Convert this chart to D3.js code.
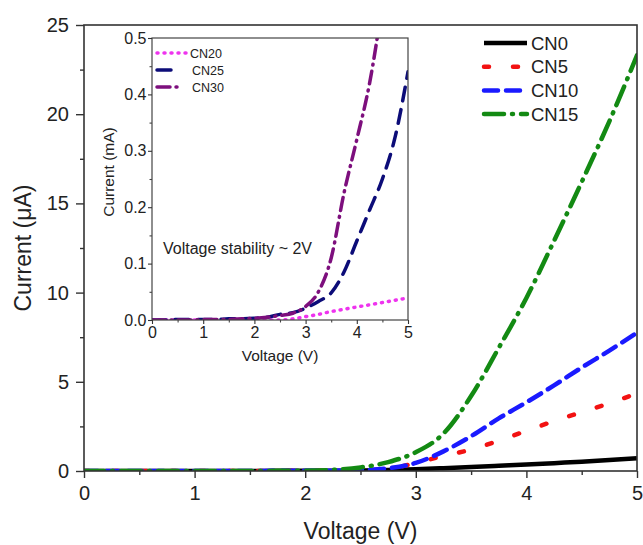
<!DOCTYPE html>
<html>
<head>
<meta charset="utf-8">
<script src="https://cdn.jsdelivr.net/npm/d3@7"></script>
<style>
  html, body { margin: 0; padding: 0; background: #fff; }
  svg { display: block; font-family: "Liberation Sans", Arial, sans-serif; }
</style>
</head>
<body>
<svg id="chart" width="643" height="545"></svg>
<script>
// Bias voltage (V), shared by every I–V sweep
const voltage = [0, 0.25, 0.5, 0.75, 1, 1.25, 1.5, 1.75, 2, 2.25, 2.5, 2.75, 3, 3.25, 3.5, 3.75, 4, 4.25, 4.5, 4.75, 5];

// Main panel currents (µA)
const cn0  = [0, 0, 0, 0, 0, 0, 0, 0.01, 0.01, 0.01, 0.02, 0.05, 0.1, 0.16, 0.22, 0.29, 0.36, 0.44, 0.52, 0.61, 0.72];
const cn5  = [0, 0, 0, 0, 0, 0, 0, 0.01, 0.01, 0.02, 0.03, 0.12, 0.45, 0.85, 1.2, 1.7, 2.25, 2.8, 3.3, 3.8, 4.35];
const cn10 = [0, 0, 0, 0, 0, 0, 0, 0.01, 0.01, 0.02, 0.05, 0.15, 0.45, 1.1, 1.95, 2.95, 3.85, 4.8, 5.8, 6.75, 7.75];
const cn15 = [0, 0, 0, 0, 0, 0, 0, 0.01, 0.02, 0.06, 0.2, 0.5, 1.05, 2.1, 4.2, 6.9, 9.7, 12.9, 16.2, 19.6, 23.3];

// Inset currents (mA)
const cn20 = [0, 0, 0, 0, 0, 0, 0, 0, 0, 0, 0, 0.002, 0.006, 0.01, 0.015, 0.019, 0.023, 0.027, 0.031, 0.035, 0.039];
const cn25 = [0, 0, 0.001, 0.001, 0.001, 0.001, 0.002, 0.002, 0.003, 0.005, 0.01, 0.013, 0.021, 0.033, 0.048, 0.085, 0.14, 0.195, 0.25, 0.325, 0.44];
const cn30 = [0, 0, 0, 0, 0.001, 0.001, 0.001, 0.002, 0.003, 0.005, 0.008, 0.012, 0.024, 0.05, 0.11, 0.225, 0.32, 0.42, 0.56, null, null];

// Tick values
const mainXTicks = [0, 1, 2, 3, 4, 5];
const mainYTicks = [0, 5, 10, 15, 20, 25];
const insetXTicks = [0, 1, 2, 3, 4, 5];
const insetYTicks = [0, 0.1, 0.2, 0.3, 0.4, 0.5];

const mainSeries = [
  { name: "CN0",  values: cn0,  color: "#000000", dash: null,          width: 4.5 },
  { name: "CN5",  values: cn5,  color: "#f21212", dash: "5 24",        width: 4.5 },
  { name: "CN10", values: cn10, color: "#1a1aff", dash: "14 8",        width: 4.5 },
  { name: "CN15", values: cn15, color: "#138a13", dash: "20 8 1 8",    width: 4.5 }
];
const insetSeries = [
  { name: "CN20", values: cn20, color: "#ee33ee", dash: "1 6",         width: 3.5 },
  { name: "CN25", values: cn25, color: "#0c0c78", dash: "14 9",        width: 3.5 },
  { name: "CN30", values: cn30, color: "#7d0f7d", dash: "13 6 1 6",    width: 3.5 }
];

const svg = d3.select("#chart");
const ink = "#222";

// ---------- main panel ----------
const M = { left: 84, right: 637, top: 25, bottom: 471 };
const x = d3.scaleLinear().domain([0, 5]).range([M.left, M.right]);
const y = d3.scaleLinear().domain([0, 25]).range([M.bottom, M.top]);

svg.append("defs").append("clipPath").attr("id", "mainClip")
  .append("rect").attr("x", M.left).attr("y", M.top)
  .attr("width", M.right - M.left).attr("height", M.bottom - M.top);

const mainLine = d3.line()
  .defined(d => d[1] != null)
  .x(d => x(d[0])).y(d => y(d[1]))
  .curve(d3.curveMonotoneX);

const gLines = svg.append("g").attr("clip-path", "url(#mainClip)");
mainSeries.forEach(s => {
  gLines.append("path")
    .datum(voltage.map((v, i) => [v, s.values[i]]))
    .attr("d", mainLine)
    .attr("fill", "none")
    .attr("stroke", s.color)
    .attr("stroke-width", s.width)
    .attr("stroke-linecap", s.dash ? "round" : "butt")
    .attr("stroke-dasharray", s.dash);
});

// frame
svg.append("rect")
  .attr("x", M.left).attr("y", M.top)
  .attr("width", M.right - M.left).attr("height", M.bottom - M.top)
  .attr("fill", "none").attr("stroke", "#333").attr("stroke-width", 1.6);

// axes
function styleAxis(g, size) {
  g.select(".domain").remove();
  g.selectAll(".tick line").attr("stroke", "#333").attr("stroke-width", 1.4);
  g.selectAll(".tick text").attr("fill", ink).style("font-size", size + "px");
}
const gx = svg.append("g").attr("transform", `translate(0,${M.bottom})`)
  .call(d3.axisBottom(x).tickValues(mainXTicks).tickFormat(d3.format("d")).tickSize(7).tickPadding(8));
styleAxis(gx, 20);
svg.append("g").attr("transform", `translate(0,${M.bottom})`)
  .call(d3.axisBottom(x).tickValues(d3.range(0.5, 5, 1)).tickFormat("").tickSize(4))
  .call(g => { g.select(".domain").remove(); g.selectAll("line").attr("stroke", "#333").attr("stroke-width", 1.4); });

const gy = svg.append("g").attr("transform", `translate(${M.left},0)`)
  .call(d3.axisLeft(y).tickValues(mainYTicks).tickFormat(d3.format("d")).tickSize(8).tickPadding(7));
styleAxis(gy, 20);
svg.append("g").attr("transform", `translate(${M.left},0)`)
  .call(d3.axisLeft(y).tickValues(d3.range(2.5, 25, 5)).tickFormat("").tickSize(4))
  .call(g => { g.select(".domain").remove(); g.selectAll("line").attr("stroke", "#333").attr("stroke-width", 1.4); });

// axis titles
svg.append("text")
  .attr("x", (M.left + M.right) / 2).attr("y", 539)
  .attr("text-anchor", "middle").attr("fill", ink)
  .style("font-size", "23px").text("Voltage (V)");
svg.append("text")
  .attr("transform", `translate(31,${(M.top + M.bottom) / 2}) rotate(-90)`)
  .attr("text-anchor", "middle").attr("fill", ink)
  .style("font-size", "23px").text("Current (μA)");

// legend
const leg = svg.append("g");
mainSeries.forEach((s, i) => {
  const ly = 43 + i * 23.7;
  leg.append("line")
    .attr("x1", 484).attr("x2", 527).attr("y1", ly).attr("y2", ly)
    .attr("stroke", s.color).attr("stroke-width", s.width)
    .attr("stroke-linecap", s.dash ? "round" : "butt")
    .attr("stroke-dasharray", s.dash);
  leg.append("text")
    .attr("x", 531).attr("y", ly).attr("dy", "0.36em")
    .attr("fill", ink).style("font-size", "18.5px").text(s.name);
});

// ---------- inset ----------
const I = { left: 152, right: 408, top: 38, bottom: 320 };
const xi = d3.scaleLinear().domain([0, 5]).range([I.left, I.right]);
const yi = d3.scaleLinear().domain([0, 0.5]).range([I.bottom, I.top]);

svg.append("rect")
  .attr("x", I.left).attr("y", I.top)
  .attr("width", I.right - I.left).attr("height", I.bottom - I.top)
  .attr("fill", "#fff");

svg.select("defs").append("clipPath").attr("id", "insetClip")
  .append("rect").attr("x", I.left).attr("y", I.top)
  .attr("width", I.right - I.left).attr("height", I.bottom - I.top);

const insetLine = d3.line()
  .defined(d => d[1] != null)
  .x(d => xi(d[0])).y(d => yi(d[1]))
  .curve(d3.curveMonotoneX);

const gInset = svg.append("g").attr("clip-path", "url(#insetClip)");
insetSeries.forEach(s => {
  gInset.append("path")
    .datum(voltage.map((v, i) => [v, s.values[i]]))
    .attr("d", insetLine)
    .attr("fill", "none")
    .attr("stroke", s.color)
    .attr("stroke-width", s.width)
    .attr("stroke-linecap", "round")
    .attr("stroke-dasharray", s.dash);
});

svg.append("rect")
  .attr("x", I.left).attr("y", I.top)
  .attr("width", I.right - I.left).attr("height", I.bottom - I.top)
  .attr("fill", "none").attr("stroke", "#444").attr("stroke-width", 1.2);

const gxi = svg.append("g").attr("transform", `translate(0,${I.bottom})`)
  .call(d3.axisBottom(xi).tickValues(insetXTicks).tickFormat(d3.format("d")).tickSize(4).tickPadding(3));
styleAxis(gxi, 16);
gxi.selectAll(".tick line").attr("stroke-width", 1.1);
svg.append("g").attr("transform", `translate(0,${I.bottom})`)
  .call(d3.axisBottom(xi).tickValues(d3.range(0.5, 5, 1)).tickFormat("").tickSize(2.5))
  .call(g => { g.select(".domain").remove(); g.selectAll("line").attr("stroke", "#444").attr("stroke-width", 1.1); });

const gyi = svg.append("g").attr("transform", `translate(${I.left},0)`)
  .call(d3.axisLeft(yi).tickValues(insetYTicks).tickFormat(d3.format(".1f")).tickSize(4).tickPadding(1.5));
styleAxis(gyi, 16);
gyi.selectAll(".tick line").attr("stroke-width", 1.1);
svg.append("g").attr("transform", `translate(${I.left},0)`)
  .call(d3.axisLeft(yi).tickValues(d3.range(0.05, 0.5, 0.1)).tickFormat("").tickSize(2.5))
  .call(g => { g.select(".domain").remove(); g.selectAll("line").attr("stroke", "#444").attr("stroke-width", 1.1); });

svg.append("text")
  .attr("x", (I.left + I.right) / 2).attr("y", 361)
  .attr("text-anchor", "middle").attr("fill", ink)
  .style("font-size", "15.5px").text("Voltage (V)");
svg.append("text")
  .attr("transform", `translate(114,172) rotate(-90)`)
  .attr("text-anchor", "middle").attr("fill", ink)
  .style("font-size", "15.5px").text("Current (mA)");

svg.append("text")
  .attr("x", 163).attr("y", 248).attr("dy", "0.36em")
  .attr("fill", ink).style("font-size", "16px").text("Voltage stability ~ 2V");

// inset legend
const ileg = svg.append("g");
insetSeries.forEach((s, i) => {
  const ly = 53 + i * 17;
  ileg.append("line")
    .attr("x1", 157).attr("x2", i === 0 ? 187 : (i === 1 ? 171 : 180)).attr("y1", ly).attr("y2", ly)
    .attr("stroke", s.color).attr("stroke-width", s.width)
    .attr("stroke-linecap", "round")
    .attr("stroke-dasharray", s.dash);
  ileg.append("text")
    .attr("x", i === 0 ? 190 : 192).attr("y", ly).attr("dy", "0.36em")
    .attr("fill", ink).style("font-size", "12.5px").text(s.name);
});
</script>
</body>
</html>
